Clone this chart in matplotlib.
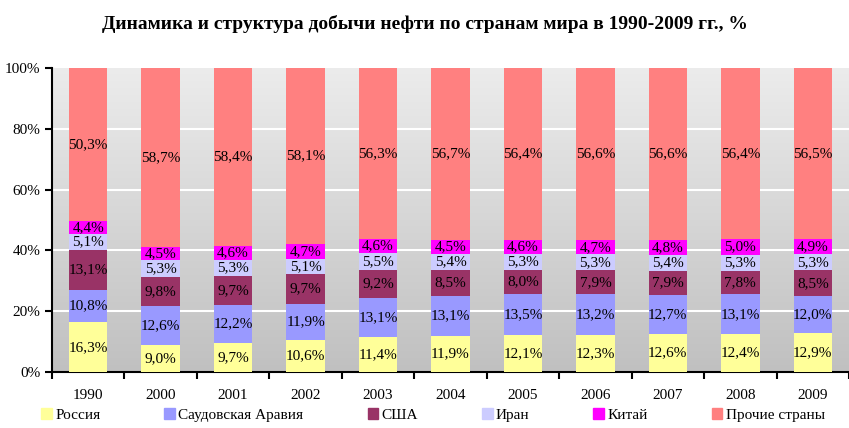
import matplotlib.pyplot as plt
import matplotlib.patches as mpatches
import numpy as np

years = ["1990", "2000", "2001", "2002", "2003", "2004", "2005", "2006", "2007", "2008", "2009"]
series_names = ["Россия", "Саудовская Аравия", "США", "Иран", "Китай", "Прочие страны"]
russia = [16.3, 9.0, 9.7, 10.6, 11.4, 11.9, 12.1, 12.3, 12.6, 12.4, 12.9]
saudi = [10.8, 12.6, 12.2, 11.9, 13.1, 13.1, 13.5, 13.2, 12.7, 13.1, 12.0]
usa = [13.1, 9.8, 9.7, 9.7, 9.2, 8.5, 8.0, 7.9, 7.9, 7.8, 8.5]
iran = [5.1, 5.3, 5.3, 5.1, 5.5, 5.4, 5.3, 5.3, 5.4, 5.3, 5.3]
china = [4.4, 4.5, 4.6, 4.7, 4.6, 4.5, 4.6, 4.7, 4.8, 5.0, 4.9]
others = [50.3, 58.7, 58.4, 58.1, 56.3, 56.7, 56.4, 56.6, 56.6, 56.4, 56.5]
colors = ["#FFFF99", "#9999FF", "#993366", "#CCCCFF", "#FF00FF", "#FF8080"]

plt.rcParams['font.family'] = ['Liberation Serif', 'DejaVu Serif']

fig = plt.figure(figsize=(8.49, 4.28), dpi=100)
ax = fig.add_axes([0.0612, 0.1308, 0.9388, 0.7103])

# gradient background
grad = np.linspace(0, 1, 256).reshape(-1, 1)
ax.imshow(grad, extent=[0, 1, 0, 1], transform=ax.transAxes, aspect='auto',
          cmap=plt.matplotlib.colors.LinearSegmentedColormap.from_list("g", ["#c0c0c0", "#ececec"]),
          origin='lower', zorder=0)

x = np.arange(len(years))
data = [russia, saudi, usa, iran, china, others]
bottom = np.zeros(len(years))
for name, vals, c in zip(series_names, data, colors):
    vals = np.array(vals)
    ax.bar(x, vals, 0.53, bottom=bottom, color=c, label=name, zorder=3)
    for xi, b, v in zip(x, bottom, vals):
        ax.text(xi, b + v / 2, f"{v:.1f}%".replace(".", ","), ha='center', va='center',
                fontsize=11, color='black', zorder=4)
    bottom += vals

ax.set_xlim(-0.5, len(years) - 0.5)
ax.set_ylim(0, 100)
ax.set_yticks([0, 20, 40, 60, 80, 100])
ax.set_yticklabels(["0%", "20%", "40%", "60%", "80%", "100%"], fontsize=11)
for yv in [20, 40, 60, 80]:
    ax.axhline(yv, color='white', lw=1.5, zorder=1)

ax.set_xticks(x)
ax.set_xticklabels(years, fontsize=11)
ax.set_xticks(np.arange(len(years) + 1) - 0.5, minor=True)
ax.tick_params(axis='x', which='major', length=0, pad=12)
ax.tick_params(axis='x', which='minor', length=5, width=1.5, direction='out')
ax.tick_params(axis='y', length=5, width=1.5, direction='out')
for s in ['top', 'right']:
    ax.spines[s].set_visible(False)
ax.spines['left'].set_linewidth(1.5)
ax.spines['bottom'].set_linewidth(1.5)

fig.suptitle("Динамика и структура добычи нефти по странам мира в 1990-2009 гг., %",
             x=0.5, y=0.965, fontsize=14, fontweight='bold')

handles = [mpatches.Patch(color=c, label=n) for n, c in zip(series_names, colors)]
fig.legend(handles=handles, loc='center', bbox_to_anchor=(0.51, 0.03), ncol=6, frameon=False,
           fontsize=11, handlelength=0.7, handleheight=0.7, handletextpad=0.2, columnspacing=4.2)

fig.savefig("out.png", dpi=100)
